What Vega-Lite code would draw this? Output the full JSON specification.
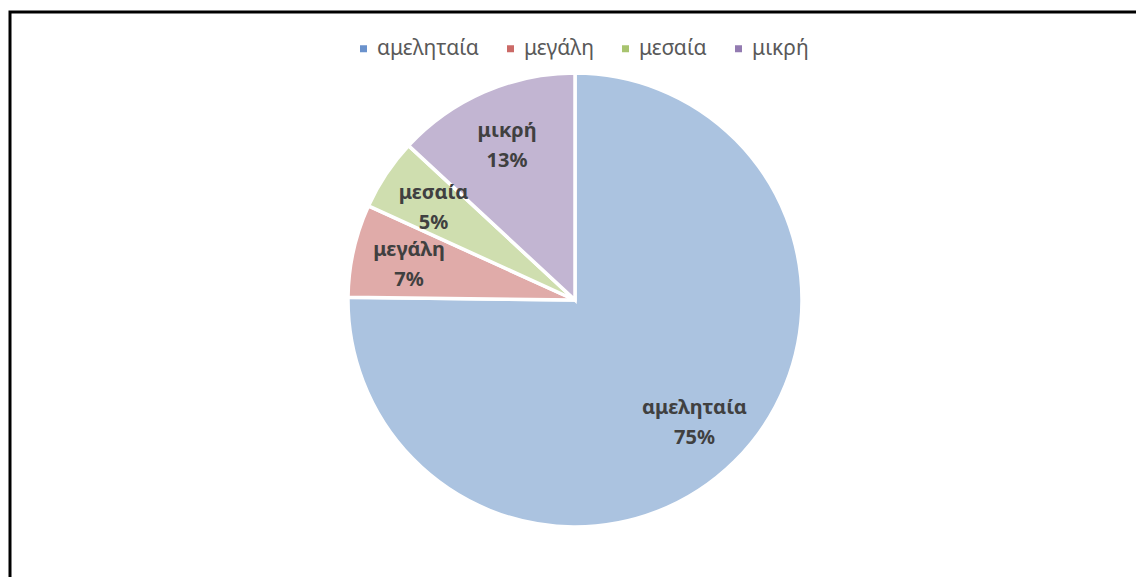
{
  "$schema": "https://vega.github.io/schema/vega-lite/v6.json",
  "width": 1130,
  "height": 576,
  "autosize": "none",
  "padding": {"left": 10, "top": 12, "right": -4, "bottom": -11},
  "background": "white",
  "config": {"view": {"stroke": null}},
  "data": {"values": [
    {"cat": "αμεληταία", "share": 0.752, "order": 1},
    {"cat": "μεγάλη", "share": 0.066, "order": 2},
    {"cat": "μεσαία", "share": 0.051, "order": 3},
    {"cat": "μικρή", "share": 0.131, "order": 4}
  ]},
  "encoding": {
    "theta": {"field": "share", "type": "quantitative", "stack": true},
    "order": {"field": "order", "type": "quantitative"}
  },
  "layer": [
    {
      "data": {"values": [{"frame": "frame"}]},
      "mark": {"type": "rect", "fill": null, "stroke": "#000000", "strokeWidth": 3},
      "encoding": {"theta": null, "order": null}
    },
    {
      "mark": {"type": "arc", "radius": 227, "stroke": "#ffffff", "strokeWidth": 3.5},
      "encoding": {
        "fill": {
          "field": "cat", "type": "nominal",
          "sort": ["αμεληταία", "μεγάλη", "μεσαία", "μικρή"],
          "scale": {"range": ["#6A92CC", "#CB6A67", "#A8C46F", "#937BB1"]},
          "legend": {
            "title": null, "orient": "none", "direction": "horizontal",
            "legendX": 343, "legendY": 26, "padding": 0,
            "symbolType": "square", "symbolSize": 49, "symbolStrokeWidth": 0,
            "labelFont": "Noto Sans", "labelFontSize": 21, "labelColor": "#595959",
            "labelOffset": 3, "columnPadding": 21
          }
        }
      }
    },
    {
      "mark": {"type": "arc", "radius": 227, "stroke": "#ffffff", "strokeWidth": 3.5},
      "encoding": {
        "fill": {
          "field": "cat", "type": "nominal",
          "sort": ["αμεληταία", "μεγάλη", "μεσαία", "μικρή"],
          "scale": {"range": ["#ABC3E0", "#E0ABA9", "#CFDEAF", "#C2B5D2"]},
          "legend": null
        }
      }
    },
    {
      "mark": {"type": "text", "radius": 170, "dy": -13, "font": "Noto Sans", "fontWeight": "bold", "fontSize": 20, "fill": "#404040"},
      "encoding": {"text": {"field": "cat", "type": "nominal"}}
    },
    {
      "mark": {"type": "text", "radius": 170, "dy": 17, "font": "Noto Sans", "fontWeight": "bold", "fontSize": 20, "fill": "#404040"},
      "encoding": {"text": {"field": "share", "type": "quantitative", "format": ".0%"}}
    }
  ],
  "resolve": {"scale": {"fill": "independent"}}
}
